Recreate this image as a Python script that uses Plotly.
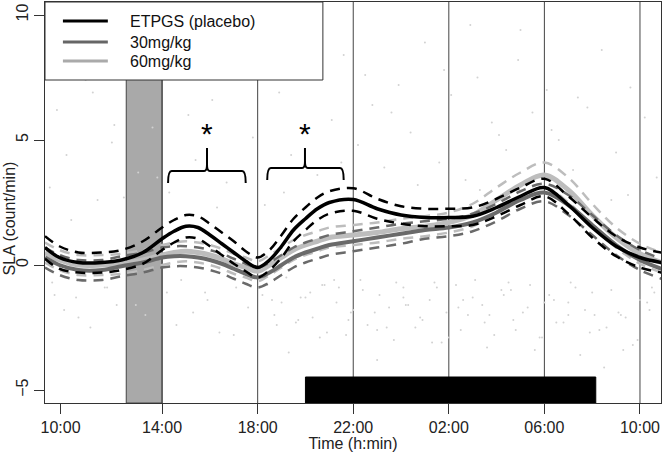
import plotly.graph_objects as go

# time axis in hours since midnight of day 1 (24 = 00:00 next day)
hours = [9.1, 9.7, 10.5, 11.5, 12.3, 13.2, 14.0, 14.5, 15.0, 15.5, 16.0, 16.5, 17.0,
         17.5, 18.0, 18.5, 19.0, 19.5, 20.0, 20.5, 21.0, 22.0, 23.0, 24.0, 25.0,
         26.0, 27.0, 28.0, 29.0, 30.0, 31.0, 32.0, 33.0, 34.0, 34.9]

etpgs_mean = [0.7, 0.3, 0.1, 0.1, 0.2, 0.5, 1.05, 1.35, 1.55, 1.5, 1.2, 0.85, 0.5,
              0.15, -0.1, 0.2, 0.75, 1.4, 1.85, 2.25, 2.5, 2.62, 2.25, 2.0, 1.9,
              1.9, 1.95, 2.3, 2.75, 3.1, 2.4, 1.5, 0.75, 0.3, 0.1]
etpgs_hw = [0.45, 0.45, 0.4, 0.4, 0.4, 0.45, 0.45, 0.45, 0.45, 0.45, 0.45, 0.45, 0.45,
            0.4, 0.4, 0.4, 0.45, 0.45, 0.45, 0.45, 0.45, 0.45, 0.4, 0.35, 0.35,
            0.35, 0.35, 0.35, 0.35, 0.35, 0.35, 0.4, 0.4, 0.4, 0.4]

mg30_mean = [0.3, 0.0, -0.2, -0.2, -0.05, 0.1, 0.3, 0.35, 0.35, 0.3, 0.2, 0.05, -0.15,
             -0.35, -0.5, -0.3, 0.0, 0.3, 0.5, 0.65, 0.8, 0.95, 1.1, 1.25, 1.4,
             1.5, 1.7, 2.1, 2.6, 2.9, 2.4, 1.6, 0.8, 0.2, -0.15]
mg30_hw = [0.4, 0.4, 0.4, 0.4, 0.4, 0.4, 0.4, 0.4, 0.4, 0.4, 0.4, 0.4, 0.4,
           0.4, 0.4, 0.4, 0.4, 0.4, 0.4, 0.4, 0.4, 0.4, 0.4, 0.4, 0.35,
           0.35, 0.35, 0.35, 0.35, 0.35, 0.4, 0.4, 0.4, 0.4, 0.4]

mg60_mean = [0.5, 0.2, 0.0, 0.0, 0.05, 0.2, 0.4, 0.5, 0.55, 0.5, 0.4, 0.25, 0.05,
             -0.1, -0.25, 0.0, 0.3, 0.6, 0.8, 0.95, 1.1, 1.2, 1.3, 1.45, 1.55,
             1.7, 2.0, 2.6, 3.2, 3.6, 3.0, 2.0, 1.1, 0.45, 0.1]
mg60_hw = [0.4, 0.4, 0.4, 0.4, 0.4, 0.4, 0.4, 0.4, 0.4, 0.4, 0.4, 0.4, 0.4,
           0.4, 0.4, 0.4, 0.4, 0.4, 0.4, 0.4, 0.4, 0.4, 0.4, 0.4, 0.4,
           0.4, 0.45, 0.5, 0.5, 0.5, 0.5, 0.45, 0.4, 0.4, 0.4]

# faint raw observations in the background
dot_hours = [9.3, 9.6, 10.2, 10.8, 11.3, 11.9, 12.6, 13.0, 13.6, 14.3, 14.9, 15.4,
             16.1, 16.7, 17.3, 17.8, 18.3, 18.9, 19.4, 19.9, 20.5, 21.1, 21.6, 22.2,
             22.8, 23.3, 23.9, 24.4, 25.0, 25.6, 26.1, 26.7, 27.2, 27.8, 28.4, 28.9,
             29.5, 30.1, 30.6, 31.2, 31.8, 32.4, 33.0, 33.6, 34.2, 34.7,
             9.5, 10.5, 11.6, 12.9, 14.6, 15.8, 17.0, 18.6, 19.7, 20.8, 21.9, 23.0,
             24.1, 25.3, 26.4, 27.5, 28.6, 29.8, 31.0, 32.1, 33.3, 34.4,
             18.4, 19.0, 19.6, 20.2, 20.9, 21.4, 22.0, 22.6, 23.1, 23.7, 24.2, 24.8,
             25.4, 25.9, 26.5, 27.0, 27.6, 28.2, 28.7, 29.3, 29.9, 30.4, 31.0, 31.5,
             32.0, 32.6, 33.1, 33.7, 34.3,
             18.7, 19.3, 20.0, 20.6, 21.2, 21.8, 22.4, 23.0, 23.5, 24.1, 24.6, 25.2,
             25.7, 26.3, 26.8, 27.4, 27.9, 28.5, 29.1, 29.6, 30.2, 30.8, 31.3, 31.9,
             32.5, 33.2, 33.9, 34.6,
             9.4, 9.9, 10.4, 11.0, 11.7, 12.1, 13.3, 14.2, 14.8, 15.3, 15.9, 16.4,
             17.1, 17.6, 18.2, 18.8, 19.2, 19.8, 20.3, 20.7, 21.3, 21.7, 22.3, 22.9,
             23.4, 23.8, 24.3, 24.9, 25.5, 26.0, 26.6, 27.1, 27.7, 28.3, 28.8, 29.4,
             30.0, 30.5, 31.1, 31.7, 32.3, 32.8, 33.4, 34.0, 34.5,
             10.0, 11.1, 12.4, 15.1, 16.6, 19.1, 21.5, 23.6, 25.8, 27.3, 29.0, 31.4,
             33.5, 12.0, 16.3, 20.1, 24.7, 28.1, 32.8, 10.7, 13.8, 22.5, 26.9, 30.3]
dot_sla = [3.1, 6.2, 1.8, 7.4, 2.6, 4.9, 8.1, 3.7, 5.5, 2.9, 7.9, 4.2,
           6.6, 3.3, 8.8, 5.1, 2.4, 6.9, 4.4, 7.7, 3.6, 5.8, 8.4, 4.8,
           6.4, 3.9, 7.2, 5.3, 8.9, 4.1, 6.8, 3.4, 7.5, 5.7, 4.6, 8.2,
           6.1, 7.0, 5.0, 3.8, 6.3, 8.6, 4.5, 7.1, 5.9, 3.5,
           -1.2, -2.1, -0.9, -1.6, -2.4, -1.1, -2.8, -1.4, -2.2, -0.8, -1.9, -2.6,
           -1.3, -3.1, -1.7, -2.3, -1.0, -2.9, -1.5, -2.0, -3.4, -1.8,
           -0.8, -1.5, -2.3, -1.1, -2.7, -0.9, -1.8, -2.4, -1.2, -3.0, -1.6, -2.1,
           -0.7, -1.9, -2.6, -1.3, -3.3, -1.0, -2.2, -1.7, -2.9, -1.4, -2.0, -3.6,
           -1.1, -2.5, -1.9, -3.2, -1.5,
           -2.0, -3.5, -1.3, -2.9, -0.6, -2.2, -1.0, -3.8, -1.7, -0.9, -2.5, -1.4,
           -3.1, -0.8, -2.0, -1.6, -2.8, -0.7, -1.9, -3.4, -1.2, -2.3, -0.9, -2.7,
           -4.1, -2.0, -3.0, -1.1,
           -0.7, -1.8, -1.3, -2.5, -0.9, -1.6, -2.0, -1.1, -0.6, -1.9, -1.4, -2.7,
           -0.9, -1.7, -1.2, -2.4, -0.5, -1.3, -2.1, -0.8, -1.5, -2.8, -0.6, -1.9,
           -2.5, -0.7, -1.6, -2.2, -0.9, -2.9, -1.4, -0.6, -2.0, -1.2, -2.6, -0.8,
           -1.5, -2.3, -0.7, -1.8, -2.6, -1.0, -2.1, -1.4, -0.9,
           4.4, 6.9, 2.7, 6.0, 9.3, 2.9, 4.1, 6.1, 7.8, 3.0, 9.4, 6.7,
           2.8, 5.6, 2.3, 9.2, 3.2, 5.2, 2.6, 8.7, 3.5, 7.6, 9.6, 5.4]

tick_hours = [9.75, 14, 18, 22, 26, 30, 34]
tick_labels = ["10:00", "14:00", "18:00", "22:00", "02:00", "06:00", "10:00"]
grid_hours = [14, 18, 22, 26, 30, 34]

series_names = ["ETPGS (placebo)", "30mg/kg", "60mg/kg"]
series_colors = ["#000000", "#6a6a6a", "#bdbdbd"]
legend_colors = ["#000000", "#666666", "#aaaaaa"]

X_RANGE = [9.1, 34.88]
Y_RANGE = [-5.52, 10.52]
FONT = "Liberation Sans, Arial, sans-serif"

fig = go.Figure()

fig.add_trace(go.Scatter(
    x=dot_hours, y=dot_sla, mode="markers",
    marker=dict(size=2, color="#d2d2d2"), showlegend=False, hoverinfo="skip",
))

# draw light series first so the placebo sits on top
for name, color, mean, hw, width in reversed([
    (series_names[0], series_colors[0], etpgs_mean, etpgs_hw, 3.5),
    (series_names[1], series_colors[1], mg30_mean, mg30_hw, 4),
    (series_names[2], series_colors[2], mg60_mean, mg60_hw, 5),
]):
    upper = [m + h for m, h in zip(mean, hw)]
    lower = [m - h for m, h in zip(mean, hw)]
    for band in (upper, lower):
        fig.add_trace(go.Scatter(
            x=hours, y=band, mode="lines", line_shape="spline",
            line=dict(color=color, width=2.5, dash="10px,7px"),
            showlegend=False, hoverinfo="skip",
        ))
    fig.add_trace(go.Scatter(
        x=hours, y=mean, mode="lines", line_shape="spline",
        line=dict(color=color, width=width), name=name, showlegend=False,
    ))

# dosing window and vertical 4-hour markers
fig.add_shape(type="rect", x0=12.5, x1=14.0, y0=Y_RANGE[0], y1=Y_RANGE[1],
              fillcolor="#a9a9a9", line=dict(color="#444", width=1), layer="below")
for h in grid_hours:
    fig.add_shape(type="line", x0=h, x1=h, y0=Y_RANGE[0], y1=Y_RANGE[1],
                  line=dict(color="#444", width=1), layer="below")

# dark phase bar
fig.add_shape(type="rect", x0=20.0, x1=32.15, y0=Y_RANGE[0], y1=-4.48,
              fillcolor="#000000", line=dict(color="#000", width=1), layer="below")

# significance braces
for x0, xm, x1, yb, yt in [(14.25, 15.88, 17.5, 3.28, 3.76), (18.4, 19.98, 21.6, 3.4, 3.88)]:
    fig.add_shape(
        type="path",
        path=(f"M {x0},{yb} Q {x0},{yt} {x0 + 0.15},{yt} L {xm - 0.12},{yt} "
              f"Q {xm},{yt} {xm},{yt + 0.25} L {xm},4.68 M {xm},{yt + 0.25} "
              f"Q {xm},{yt} {xm + 0.12},{yt} L {x1 - 0.15},{yt} Q {x1},{yt} {x1},{yb}"),
        line=dict(color="#000", width=2),
    )
    fig.add_annotation(x=xm, y=5.25, text="*", showarrow=False,
                       font=dict(size=30, color="#000", family=FONT))

# legend box drawn in data space, R style
fig.add_shape(type="rect", x0=X_RANGE[0], x1=20.73, y0=7.4, y1=Y_RANGE[1],
              fillcolor="white", line=dict(color="#333", width=1))
for name, lc, y in zip(series_names, legend_colors, [9.76, 8.92, 8.16]):
    fig.add_shape(type="line", x0=9.85, x1=11.73, y0=y, y1=y,
                  line=dict(color=lc, width=3))
    fig.add_annotation(x=12.58, y=y, text=name, showarrow=False, xanchor="left",
                       font=dict(size=16, color="#111", family=FONT))

# y axis title placed by hand, left of the rotated tick labels
fig.add_annotation(text="SLA (count/min)", xref="paper", yref="paper",
                   x=-0.057, y=0.46, xanchor="center", yanchor="middle",
                   textangle=-90, showarrow=False,
                   font=dict(size=16, color="#222", family=FONT))

fig.update_layout(
    width=663, height=452,
    margin=dict(l=45, r=2, t=2, b=49),
    paper_bgcolor="white", plot_bgcolor="white",
    font=dict(family=FONT, size=16, color="#222"),
    showlegend=False,
)
fig.update_xaxes(
    range=X_RANGE, tickvals=tick_hours, ticktext=tick_labels,
    ticks="outside", ticklen=10, tickcolor="#333",
    showline=True, mirror=True, linecolor="#333", linewidth=1,
    showgrid=False, zeroline=False, automargin=False,
    title=dict(text="Time (h:min)", standoff=1, font=dict(size=16)),
    tickfont=dict(size=16),
)
fig.update_yaxes(
    range=Y_RANGE, tickvals=[-5, 0, 5, 10], tickangle=-90,
    ticks="outside", ticklen=10, tickcolor="#333",
    showline=True, mirror=True, linecolor="#333", linewidth=1,
    showgrid=False, zeroline=False, automargin=False,
    tickfont=dict(size=16),
)

# the page body has a default 8px margin; drop it so the figure fills the window
fig.write_html("out.html", config={"displayModeBar": False},
               post_script="document.body.style.margin = '0';")
